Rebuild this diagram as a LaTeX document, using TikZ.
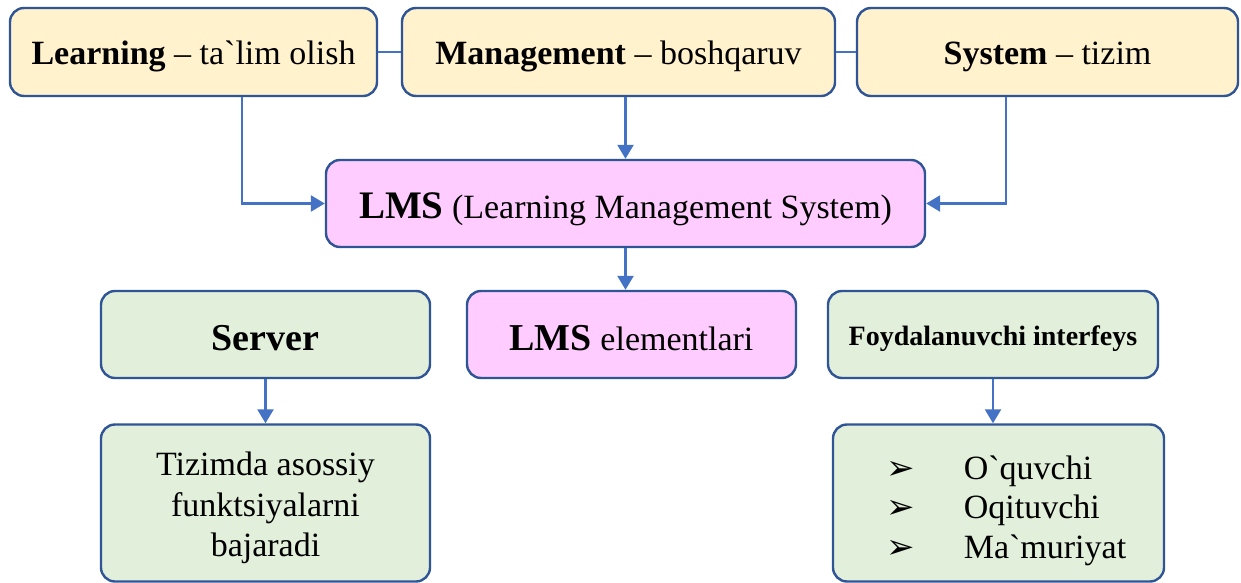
\documentclass[tikz,border=0pt]{standalone}
\usepackage{fontspec}
\setmainfont{Liberation Serif}
\newfontfamily\symfont{DejaVu Sans}
\usetikzlibrary{arrows.meta}

\definecolor{boxline}{HTML}{2F5597}
\definecolor{arrcol}{HTML}{4472C4}
\definecolor{topfill}{HTML}{FFF2CC}
\definecolor{pinkfill}{HTML}{FFCCFF}
\definecolor{greenfill}{HTML}{E2EFDA}

\newcommand{\gr}{\textasciigrave}
\newcommand{\bul}{\makebox[77pt][l]{\symfont\fontsize{34}{34}\selectfont ➢}}

\tikzset{
  box/.style = {draw=boxline, line width=2.4pt, rounded corners=14pt, align=center,
                inner sep=0pt, font=\fontsize{34}{40.5}\selectfont},
  topbox/.style = {box, fill=topfill, minimum height=88pt, text height=26pt, text depth=0pt},
  pinkbox/.style = {box, fill=pinkfill, minimum height=87pt, text depth=0pt},
  greenbox/.style = {box, fill=greenfill, minimum height=87pt},
  arr/.style = {draw=arrcol, line width=2.4pt, -{Triangle[width=16pt,length=14pt]}},
  link/.style = {draw=arrcol, line width=2.4pt}
}

\begin{document}
\begin{tikzpicture}[x=1pt, y=-1pt]
\useasboundingbox (0,0) rectangle (1241,583);
% top row
\node[topbox, minimum width=367pt] (learn) at (193.5,52) {\textbf{Learning} -- ta\gr lim olish};
\node[topbox, minimum width=433pt] (manage) at (618.5,52) {\textbf{Management} -- boshqaruv};
\node[topbox, minimum width=381pt] (system) at (1047.5,52) {\textbf{System} -- tizim};
% main box
\node[pinkbox, minimum width=599pt, text height=30pt] (lms) at (625.5,203.5)
  {{\fontsize{39}{40}\selectfont\textbf{LMS}} (Learning Management System)};
% second row
\node[greenbox, minimum width=329pt, text height=31pt, text depth=0pt] (server) at (265.5,334.5)
  {\fontsize{38}{40}\selectfont\textbf{Server}};
\node[pinkbox, minimum width=329pt, text height=31pt] (elem) at (631.5,334.5)
  {{\fontsize{38}{40}\selectfont\textbf{LMS}} elementlari};
\node[greenbox, minimum width=330pt, text height=21pt, text depth=0pt] (user) at (993,334.5)
  {\fontsize{28}{30}\selectfont\textbf{Foydalanuvchi interfeys}};
% bottom row
\node[greenbox, minimum width=329pt, minimum height=157pt] (func) at (265.5,503)
  {\rule{0pt}{34pt}Tizimda asossiy\\funktsiyalarni\\bajaradi};
\node[greenbox, minimum width=331pt, minimum height=157pt] (roles) at (998.5,503)
  {\begin{tabular}{@{\hspace{16pt}}l@{}}
   \rule{0pt}{44pt}\bul O\gr quvchi\\[-1pt]
   \bul Oqituvchi\\[-1pt]
   \bul Ma\gr muriyat
   \end{tabular}};
% connectors
\draw[link] (learn.east) -- (manage.west);
\draw[link] (manage.east) -- (system.west);
\draw[arr] ([xshift=48.5pt]learn.south) |- (lms.west);
\draw[arr] (lms.north |- manage.south) -- (lms.north);
\draw[arr] ([xshift=-41.5pt]system.south) |- (lms.east);
\draw[arr] (lms.south) -- (lms.south |- elem.north);
\draw[arr] (server.south) -- (func.north);
\draw[arr] (user.south) -- (user.south |- roles.north);
\end{tikzpicture}
\end{document}
